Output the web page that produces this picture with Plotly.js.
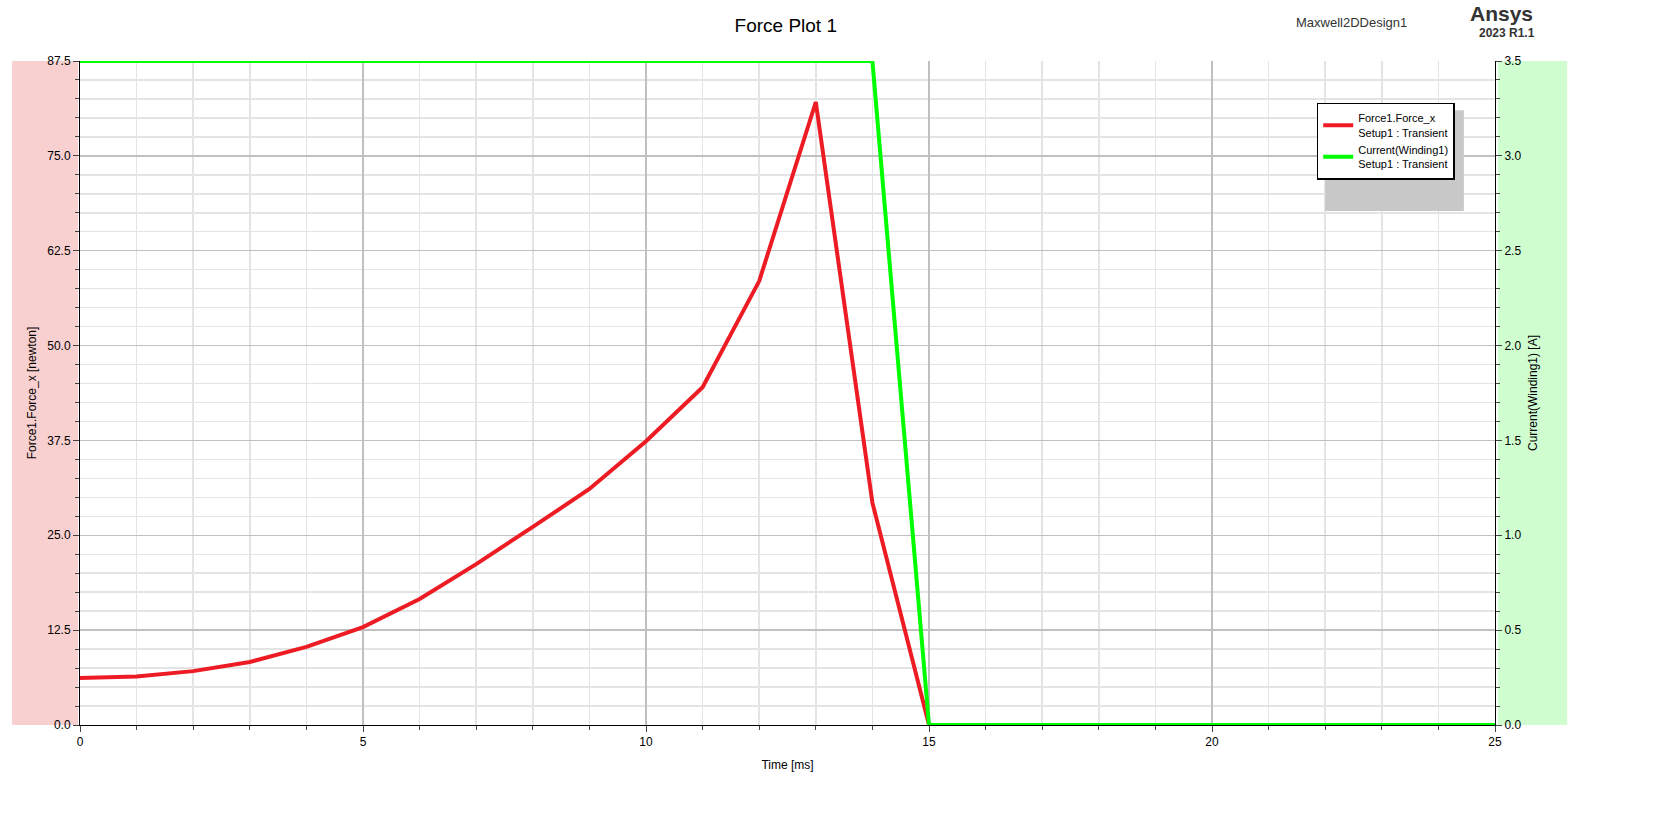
<!DOCTYPE html>
<html>
<head>
<meta charset="utf-8">
<script src="https://cdn.plot.ly/plotly-3.0.1.min.js"></script>
<style>body{margin:0;background:#fff}#chart{width:1679px;height:837px}</style>
</head>
<body>
<div id="chart"></div>
<script>
// values
const timeMs = [0, 1, 2, 3, 4, 5, 6, 7, 8, 9, 10, 11, 12, 13, 14, 15, 16, 17, 18, 19, 20, 21, 22, 23, 24, 25];
const forceX = [6.2, 6.4, 7.1, 8.3, 10.3, 12.9, 16.6, 21.2, 26.1, 31.1, 37.4, 44.5, 58.5, 82.1, 29.3, 0, 0, 0, 0, 0, 0, 0, 0, 0, 0, 0];
const currentA = [3.5, 3.5, 3.5, 3.5, 3.5, 3.5, 3.5, 3.5, 3.5, 3.5, 3.5, 3.5, 3.5, 3.5, 3.5, 0, 0, 0, 0, 0, 0, 0, 0, 0, 0, 0];
const yTicks = [0, 12.5, 25, 37.5, 50, 62.5, 75, 87.5];
const y2Ticks = [0, 0.5, 1, 1.5, 2, 2.5, 3, 3.5];

const font = {family: 'Arial, Liberation Sans, sans-serif', size: 12, color: '#000'};

const traces = [
    {x: timeMs, y: forceX, type: 'scatter', mode: 'lines', name: 'Force1.Force_x<br>Setup1 : Transient',
     line: {color: '#ed1c24', width: 4}},
    {x: timeMs, y: currentA, type: 'scatter', mode: 'lines', name: 'Current(Winding1)<br>Setup1 : Transient',
     line: {color: '#00ff00', width: 4}, yaxis: 'y2'}
];

const axisBase = {
    showline: true, linecolor: '#000', linewidth: 1, mirror: false,
    gridcolor: '#c0c0c0', gridwidth: 1.5, zeroline: false, ticks: 'outside', ticklen: 6,
    tickfont: font, fixedrange: true
};

const layout = {
    width: 1679, height: 837,
    margin: {l: 80, r: 184, t: 61, b: 112},
    paper_bgcolor: '#fff', plot_bgcolor: '#fff',
    font: font,
    title: {text: 'Force Plot 1', x: 0.468, y: 0.978, font: {family: 'Arial, Liberation Sans, sans-serif', size: 19}},
    xaxis: Object.assign({}, axisBase, {
        range: [0, 25], tickvals: [0, 5, 10, 15, 20, 25],
        minor: {dtick: 1, showgrid: true, gridcolor: '#e4e4e4', ticks: 'outside', ticklen: 4},
        title: {text: 'Time [ms]', font: font, standoff: 12}
    }),
    yaxis: Object.assign({}, axisBase, {
        range: [0, 87.5], tickvals: yTicks, ticktext: yTicks.map(v => v.toFixed(1)),
        minor: {dtick: 2.5, showgrid: true, gridcolor: '#e4e4e4', ticks: 'outside', ticklen: 4},
        title: {text: 'Force1.Force_x [newton]', font: font, standoff: 8}
    }),
    yaxis2: Object.assign({}, axisBase, {
        overlaying: 'y', side: 'right', showgrid: false,
        range: [0, 3.5], tickvals: y2Ticks, ticktext: y2Ticks.map(v => v.toFixed(1)),
        minor: {dtick: 0.1, ticks: 'outside', ticklen: 4},
        title: {text: 'Current(Winding1) [A]', font: font, standoff: 8}
    }),
    legend: {
        x: 0.874, y: 0.937, xanchor: 'left', yanchor: 'top',
        bgcolor: '#fff', bordercolor: '#000', borderwidth: 1.5,
        font: {family: 'Arial, Liberation Sans, sans-serif', size: 11}, tracegroupgap: 26
    },
    shapes: [
        {type: 'rect', xref: 'paper', yref: 'paper', x0: -0.048, x1: -0.0014, y0: 0, y1: 1,
         fillcolor: '#f9d0d0', line: {width: 0}, layer: 'below'},
        {type: 'rect', xref: 'paper', yref: 'paper', x0: 1.002, x1: 1.051, y0: 0, y1: 1,
         fillcolor: '#d0fdd0', line: {width: 0}, layer: 'below'},
        {type: 'rect', xref: 'paper', yref: 'paper', x0: 0.880, x1: 0.978, y0: 0.774, y1: 0.926,
         fillcolor: '#c8c8c8', line: {width: 0}, layer: 'above'}
    ],
    annotations: [
        {text: 'Maxwell2DDesign1', xref: 'paper', yref: 'paper', x: 0.939, y: 1.072, showarrow: false,
         font: {family: 'Arial, Liberation Sans, sans-serif', size: 13, color: '#333'}},
        {text: '<b>Ansys</b>', xref: 'paper', yref: 'paper', x: 1.028, y: 1.092, showarrow: false,
         font: {family: 'Arial, Liberation Sans, sans-serif', size: 21, color: '#333'}},
        {text: '<b>2023 R1.1</b>', xref: 'paper', yref: 'paper', x: 1.03, y: 1.055, showarrow: false,
         font: {family: 'Arial, Liberation Sans, sans-serif', size: 12, color: '#333'}}
    ],
    showlegend: true
};

Plotly.newPlot('chart', traces, layout, {displayModeBar: false, staticPlot: true});
</script>
</body>
</html>
